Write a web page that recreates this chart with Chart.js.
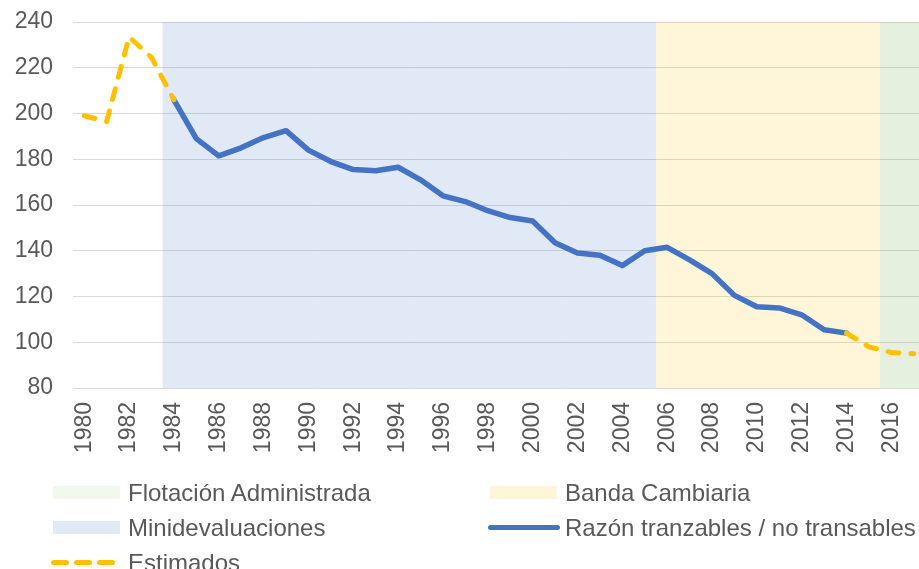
<!DOCTYPE html>
<html>
<head>
<meta charset="utf-8">
<script src="https://cdn.jsdelivr.net/npm/chart.js@4.4.0/dist/chart.umd.min.js"></script>
<style>
  html, body { margin: 0; padding: 0; background: #fff; width: 919px; height: 569px; overflow: hidden; }
  #wrap { position: relative; width: 925px; height: 470px; }
  #legend { position: absolute; left: 0; top: 0; width: 919px; height: 569px; pointer-events: none;
            font: 24px "Liberation Sans", Arial, sans-serif; color: #595959; }
  .item { position: absolute; height: 35px; display: flex; align-items: center; white-space: nowrap; }
  .sw { width: 73px; height: 35px; position: relative; margin-right: 5px; }
</style>
</head>
<body>
<div id="wrap"><canvas id="chart"></canvas></div>
<div id="legend"></div>
<script>
const years = [1980, 1981, 1982, 1983, 1984, 1985, 1986, 1987, 1988, 1989,
               1990, 1991, 1992, 1993, 1994, 1995, 1996, 1997, 1998, 1999,
               2000, 2001, 2002, 2003, 2004, 2005, 2006, 2007, 2008, 2009,
               2010, 2011, 2012, 2013, 2014, 2015, 2016, 2017];

// razón tranzables / no transables (línea continua)
const razon = [null, null, null, null, 206, 189, 181.5, 185, 189.5, 192.5,
               184, 179, 175.5, 175, 176.5, 171, 164, 161.5, 157.5, 154.5,
               153, 143.5, 139, 138, 133.5, 140, 141.5, 136, 130, 120.5,
               115.5, 115, 112, 105.5, 104, null, null, null];

// estimados (línea punteada)
const estimados = [199, 196.5, 233.5, 224.5, 206, null, null, null, null, null,
                   null, null, null, null, null, null, null, null, null, null,
                   null, null, null, null, null, null, null, null, null, null,
                   null, null, null, null, 104, 98, 95.5, 95];

// periodos cambiarios [desde, hasta]
const miniPeriodo = [1984, 2005];
const bandaPeriodo = [2006, 2015];
const flotPeriodo = [2016, 2017];

const yMin = 80, yMax = 240, yStep = 20;

const band = (p) => years.map(y => (y >= p[0] && y <= p[1]) ? yMax : null);

const font = { family: '"Liberation Sans", Arial, sans-serif', size: 23 };
const gray = '#595959';

const datasets = [
  { type: 'line', label: 'Estimados', data: estimados, borderColor: '#FFC000', borderWidth: 5,
    borderDash: [11, 12], borderCapStyle: 'round', borderJoinStyle: 'round', pointRadius: 0, spanGaps: false, order: 0 },
  { type: 'line', label: 'Razón tranzables / no transables', data: razon, borderColor: '#4472C4', borderWidth: 5.5,
    borderCapStyle: 'round', borderJoinStyle: 'round', pointRadius: 0, spanGaps: false, order: 1 },
  { type: 'bar', label: 'Flotación Administrada', data: band(flotPeriodo), backgroundColor: 'rgba(112,173,71,0.18)',
    legendColor: 'rgba(112,173,71,0.09)', order: 2 },
  { type: 'bar', label: 'Banda Cambiaria', data: band(bandaPeriodo), backgroundColor: 'rgba(255,192,0,0.15)', order: 2 },
  { type: 'bar', label: 'Minidevaluaciones', data: band(miniPeriodo), backgroundColor: 'rgba(68,114,196,0.16)', order: 2 }
];
datasets.forEach(d => {
  if (d.type === 'bar') {
    d.barPercentage = 1; d.categoryPercentage = 1; d.grouped = false; d.borderWidth = 0; d.inflateAmount = 0;
  }
});

const chart = new Chart(document.getElementById('chart'), {
  data: { labels: years, datasets: datasets },
  options: {
    responsive: true,
    maintainAspectRatio: false,
    animation: false,
    layout: { padding: { top: 22, left: 0, right: 0, bottom: 0 } },
    plugins: { legend: { display: false }, tooltip: { enabled: false } },
    scales: {
      x: {
        offset: true,
        grid: { display: false, drawTicks: false },
        border: { display: true, color: '#D9D9D9', width: 1 },
        ticks: {
          color: gray, font: font, autoSkip: false, minRotation: 90, maxRotation: 90, padding: 14,
          callback: function (v, i) { return i % 2 === 0 ? this.getLabelForValue(v) : ''; }
        },
        afterFit: (s) => { s.height = 82; s.paddingLeft = 0; s.paddingRight = 0; }
      },
      y: {
        min: yMin, max: yMax,
        grid: { color: '#D9D9D9', lineWidth: 1, drawTicks: false },
        border: { display: false },
        ticks: { stepSize: yStep, color: gray, font: font, padding: 20 },
        afterFit: (s) => { s.width = 73; s.paddingTop = 0; s.paddingBottom = 0; }
      }
    }
  }
});

// leyenda en dos columnas
const legendOrder = ['Flotación Administrada', 'Banda Cambiaria', 'Minidevaluaciones',
                     'Razón tranzables / no transables', 'Estimados'];
const legend = document.getElementById('legend');
legendOrder.forEach((name, i) => {
  const ds = datasets.find(d => d.label === name);
  const item = document.createElement('div');
  item.className = 'item';
  item.style.left = (i % 2 === 0 ? 50 : 487) + 'px';
  item.style.top = (475 + Math.floor(i / 2) * 35) + 'px';
  const sw = document.createElement('div');
  sw.className = 'sw';
  if (ds.type === 'bar') {
    const r = document.createElement('div');
    r.style.cssText = `position:absolute;left:3px;top:11px;width:67px;height:13px;background:${ds.legendColor || ds.backgroundColor}`;
    sw.appendChild(r);
  } else if (ds.borderDash) {
    [0, 23, 46].forEach(x => {
      const r = document.createElement('div');
      r.style.cssText = `position:absolute;left:${x + 1}px;top:15px;width:18px;height:5px;border-radius:3px;background:${ds.borderColor}`;
      sw.appendChild(r);
    });
  } else {
    const r = document.createElement('div');
    r.style.cssText = `position:absolute;left:1px;top:15px;width:72px;height:5px;border-radius:3px;background:${ds.borderColor}`;
    sw.appendChild(r);
  }
  item.appendChild(sw);
  const t = document.createElement('span');
  t.textContent = name;
  item.appendChild(t);
  legend.appendChild(item);
});
</script>
</body>
</html>
